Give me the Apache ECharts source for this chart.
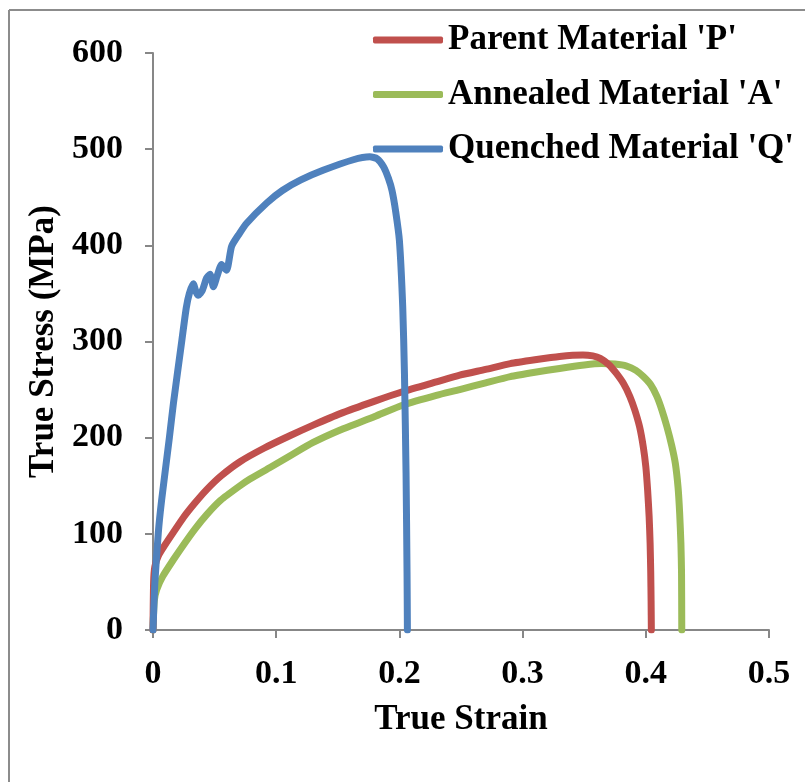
<!DOCTYPE html>
<html>
<head>
<meta charset="utf-8">
<script src="https://cdn.jsdelivr.net/npm/echarts@6/dist/echarts.min.js"></script>
<style>
html,body{margin:0;padding:0;background:#fff;}
#chart{width:805px;height:782px;}
</style>
</head>
<body>
<div id="chart"></div>
<script>
// Parent material 'P'
var pStrain = [0, 0.0005, 0.0015, 0.0043, 0.01, 0.0165, 0.025, 0.034, 0.0436, 0.055, 0.0706, 0.09, 0.111, 0.13, 0.152, 0.18, 0.203, 0.23, 0.249, 0.27, 0.29, 0.31, 0.33, 0.349, 0.357, 0.363, 0.37, 0.376, 0.382, 0.387, 0.391, 0.395, 0.398, 0.4, 0.4015, 0.4027, 0.4035, 0.404, 0.4043, 0.4045];
var pStress = [0, 50, 66, 77, 89, 101.5, 117.5, 132, 146, 160, 175, 189, 202, 213, 225, 238, 248, 258, 265, 271, 277, 281, 284.5, 286, 285, 282.5, 276, 267, 256, 243, 229, 211, 190, 170, 145, 118, 90, 60, 30, 0];
// Annealed material 'A'
var aStrain = [0, 0.001, 0.003, 0.008, 0.0165, 0.025, 0.034, 0.0436, 0.055, 0.0706, 0.0787, 0.095, 0.111, 0.13, 0.152, 0.18, 0.203, 0.23, 0.249, 0.27, 0.29, 0.31, 0.33, 0.35, 0.364, 0.375, 0.3845, 0.392, 0.398, 0.404, 0.409, 0.413, 0.417, 0.421, 0.424, 0.4262, 0.4275, 0.4285, 0.429, 0.4292];
var aStress = [0, 30, 42, 56, 73, 89, 105, 120, 135, 150, 157, 169, 181, 195, 208, 222, 234, 244, 250, 257, 263.5, 268, 272, 275.5, 277, 276.5, 274.5, 270, 263.5, 255, 243, 229, 212, 192, 173, 148, 121, 90, 60, 0];
// Quenched material 'Q'
var qStrain = [0, 0.0015, 0.0043, 0.007, 0.0133, 0.0166, 0.0233, 0.027, 0.0295, 0.0327, 0.0348, 0.0368, 0.04, 0.0435, 0.0463, 0.049, 0.052, 0.0557, 0.0597, 0.0638, 0.07, 0.076, 0.0923, 0.105, 0.12, 0.138, 0.1626, 0.176, 0.182, 0.187, 0.191, 0.194, 0.197, 0.2, 0.2027, 0.2041, 0.2054, 0.2062, 0.2065];
var qStress = [0, 49, 101, 135, 200, 236, 300, 335, 350, 360, 352, 348, 353, 366, 370, 357, 368, 380, 374, 399, 412, 423, 444, 457, 468, 478, 489, 492, 490, 482, 470, 457, 435, 405, 336, 267, 163, 60, 0];

var seriesNames = ["Parent Material 'P'", "Annealed Material 'A'", "Quenched Material 'Q'"];
var xTicks = [0, 0.1, 0.2, 0.3, 0.4, 0.5];
var yTicks = [0, 100, 200, 300, 400, 500, 600];

function pairs(xs, ys) { return xs.map(function (x, i) { return [x, ys[i]]; }); }

var FONT = '"Liberation Serif", "Times New Roman", serif';
var chart = echarts.init(document.getElementById('chart'), null, { renderer: 'canvas' });
var axisGray = '#878787';

chart.setOption({
  animation: false,
  backgroundColor: '#ffffff',
  color: ['#C0504D', '#9BBB59', '#4F81BD'],
  graphic: [
    { type: 'line', shape: { x1: 9, y1: 10, x2: 805, y2: 10 }, style: { stroke: '#8c8c8c', lineWidth: 2 } },
    { type: 'line', shape: { x1: 9, y1: 10, x2: 9, y2: 782 }, style: { stroke: '#8c8c8c', lineWidth: 2 } }
  ],
  grid: { left: 153, right: 36, top: 53, bottom: 152, containLabel: false },
  legend: {
    orient: 'vertical',
    left: 373,
    top: 20,
    padding: 0,
    itemWidth: 70,
    itemHeight: 7,
    itemGap: 14.5,
    icon: 'roundRect',
    data: seriesNames,
    textStyle: { fontFamily: FONT, fontWeight: 'bold', fontSize: 35, color: '#000', lineHeight: 40 }
  },
  xAxis: {
    type: 'value',
    min: 0, max: 0.5, interval: 0.1,
    name: 'True Strain',
    nameLocation: 'middle',
    nameGap: 72,
    nameTextStyle: { fontFamily: FONT, fontWeight: 'bold', fontSize: 35, color: '#000' },
    splitLine: { show: false },
    axisLine: { lineStyle: { color: axisGray, width: 2 } },
    axisTick: { show: true, inside: false, length: 8, lineStyle: { color: axisGray, width: 2 } },
    axisLabel: {
      fontFamily: FONT, fontWeight: 'bold', fontSize: 34, color: '#000', margin: 27,
      formatter: function (v) { return String(Math.round(v * 10) / 10); }
    }
  },
  yAxis: {
    type: 'value',
    min: 0, max: 600, interval: 100,
    name: 'True Stress (MPa)',
    nameLocation: 'middle',
    nameGap: 90,
    nameRotate: 90,
    nameTextStyle: { fontFamily: FONT, fontWeight: 'bold', fontSize: 35, color: '#000' },
    splitLine: { show: false },
    axisLine: { show: true, lineStyle: { color: axisGray, width: 2 } },
    axisTick: { show: true, inside: false, length: 8, lineStyle: { color: axisGray, width: 2 } },
    axisLabel: { fontFamily: FONT, fontWeight: 'bold', fontSize: 34, color: '#000', margin: 30 }
  },
  series: [
    { name: seriesNames[0], type: 'line', data: pairs(pStrain, pStress), showSymbol: false, symbol: 'none', smooth: 0.2, lineStyle: { width: 7, cap: 'round', join: 'round' }, z: 3 },
    { name: seriesNames[1], type: 'line', data: pairs(aStrain, aStress), showSymbol: false, symbol: 'none', smooth: 0.2, lineStyle: { width: 7, cap: 'round', join: 'round' }, z: 2 },
    { name: seriesNames[2], type: 'line', data: pairs(qStrain, qStress), showSymbol: false, symbol: 'none', smooth: 0.2, lineStyle: { width: 7, cap: 'round', join: 'round' }, z: 4 }
  ]
});
</script>
</body>
</html>
